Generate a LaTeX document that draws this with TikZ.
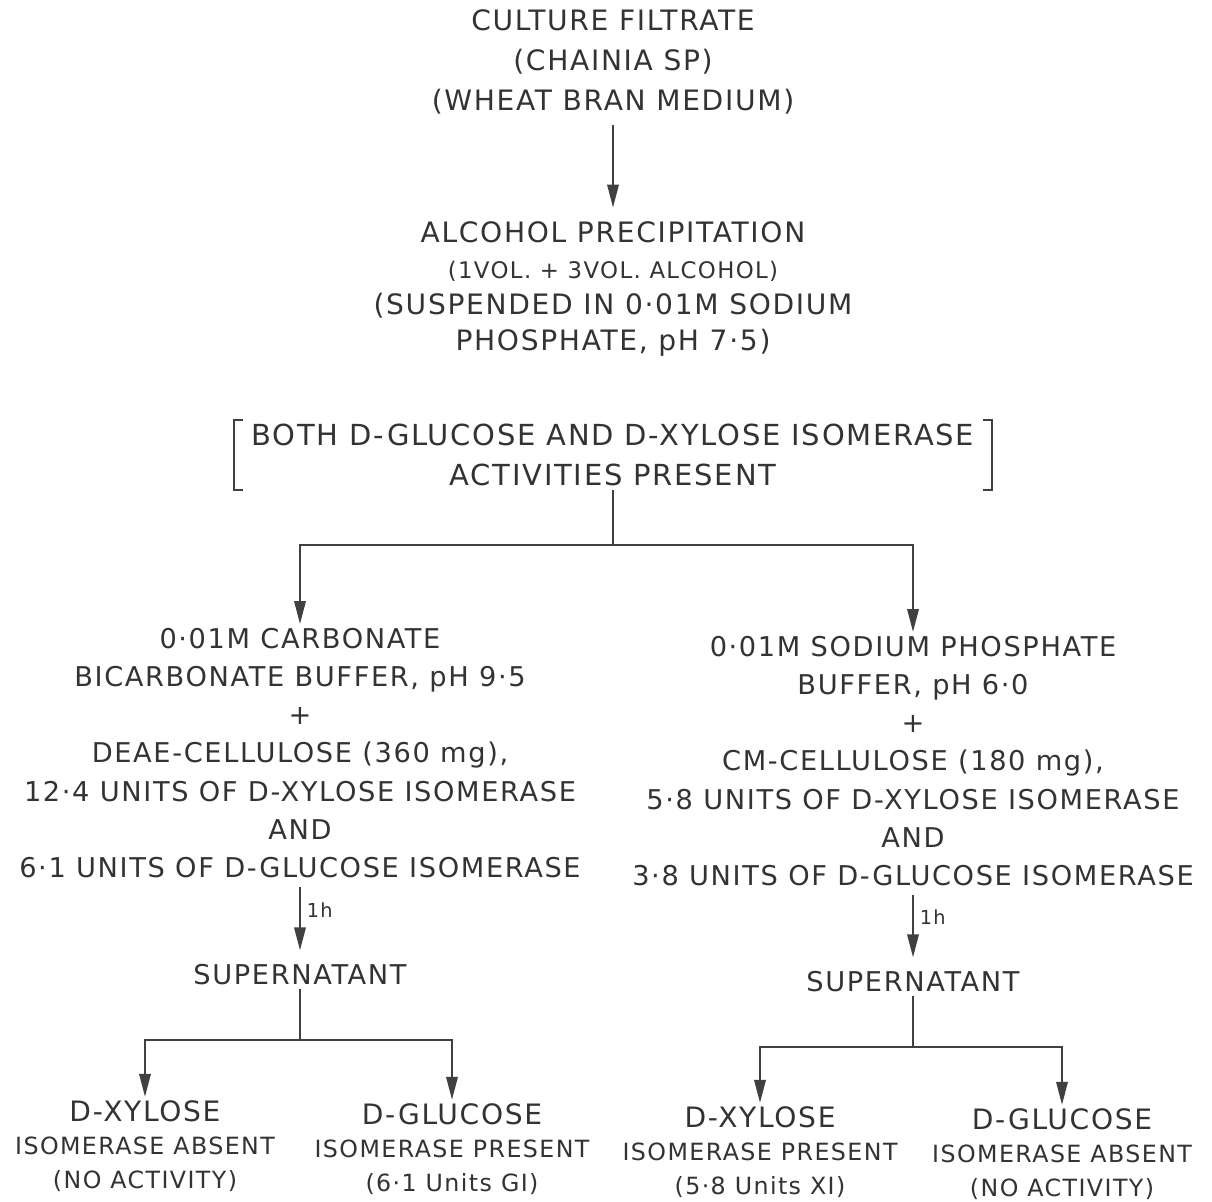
\documentclass[tikz,border=0pt]{standalone}
\usepackage{fontspec}
\setmainfont{DejaVu Sans}[LetterSpace=6]
\usetikzlibrary{arrows.meta}

\begin{document}
\begin{tikzpicture}[x=0.02cm,y=-0.02cm,
    txt/.style={align=center, inner sep=2pt, text=black!80, font=\fontsize{15.5}{21.8}\selectfont},
    lowtxt/.style={align=center, inner sep=2pt, text=black!80, font=\fontsize{13.5}{19}\selectfont},
    head/.style={font=\fontsize{16}{19}\selectfont},
    line/.style={draw=black!75, line width=1.1pt},
    arr/.style={line, -{Triangle[length=13pt,width=6.5pt]}}]
    \useasboundingbox (0,0) rectangle (1212,1201);

    % top of the scheme
    \node[txt, font=\fontsize{16}{22.7}\selectfont] (culture) at (613,62)
        {CULTURE FILTRATE\\(CHAINIA SP)\\(WHEAT BRAN MEDIUM)};
    \node[txt, font=\fontsize{16}{20.4}\selectfont] (alcohol) at (613,289)
        {ALCOHOL PRECIPITATION\\{\fontsize{13}{14}\selectfont (1VOL. + 3VOL. ALCOHOL)}\\(SUSPENDED IN 0·01M SODIUM\\PHOSPHATE, pH 7·5)};
    \node[txt, font=\fontsize{16.5}{22.7}\selectfont, inner xsep=10pt] (both) at (613,455)
        {BOTH D-GLUCOSE AND D-XYLOSE ISOMERASE\\ACTIVITIES PRESENT};
    \draw[line] ([shift={(9,0)}]both.north west) -- (both.north west) -- (both.south west) -- ++(9,0);
    \draw[line] ([shift={(-9,0)}]both.north east) -- (both.north east) -- (both.south east) -- ++(-9,0);

    \draw[arr, shorten <=4pt, shorten >=6pt] (culture) -- (alcohol);

    % two columns
    \node[txt] (bufL) at (300,753)
        {0·01M CARBONATE\\BICARBONATE BUFFER, pH 9·5\\+\\DEAE-CELLULOSE (360 mg),\\12·4 UNITS OF D-XYLOSE ISOMERASE\\AND\\6·1 UNITS OF D-GLUCOSE ISOMERASE};
    \node[txt] (bufR) at (913,761)
        {0·01M SODIUM PHOSPHATE\\BUFFER, pH 6·0\\+\\CM-CELLULOSE (180 mg),\\5·8 UNITS OF D-XYLOSE ISOMERASE\\AND\\3·8 UNITS OF D-GLUCOSE ISOMERASE};

    \coordinate (fork1) at (613,545);
    \draw[line] (both) -- (fork1);
    \draw[arr] (fork1) -| (bufL);
    \draw[arr] (fork1) -| (bufR);

    \node[txt] (supL) at (300,975) {SUPERNATANT};
    \node[txt] (supR) at (913,982) {SUPERNATANT};
    \draw[arr, shorten <=3pt, shorten >=6pt] (bufL) -- node[right, text=black!80, font=\fontsize{11}{13}\selectfont, pos=0.35] {1h} (supL);
    \draw[arr, shorten <=3pt, shorten >=6pt] (bufR) -- node[right, text=black!80, font=\fontsize{11}{13}\selectfont, pos=0.35] {1h} (supR);

    % results
    \node[lowtxt] (xylL) at (145,1146) {{\fontsize{16}{19}\selectfont D-XYLOSE}\\ISOMERASE ABSENT\\(NO ACTIVITY)};
    \node[lowtxt] (gluL) at (452,1149) {{\fontsize{16}{19}\selectfont D-GLUCOSE}\\ISOMERASE PRESENT\\(6·1 Units GI)};
    \node[lowtxt] (xylR) at (760,1152) {{\fontsize{16}{19}\selectfont D-XYLOSE}\\ISOMERASE PRESENT\\(5·8 Units XI)};
    \node[lowtxt] (gluR) at (1062,1154) {{\fontsize{16}{19}\selectfont D-GLUCOSE}\\ISOMERASE ABSENT\\(NO ACTIVITY)};

    \coordinate (fork2) at (300,1040);
    \coordinate (fork3) at (913,1047);
    \draw[line] (supL) -- (fork2);
    \draw[arr] (fork2) -| (xylL);
    \draw[arr] (fork2) -| (gluL);
    \draw[line] (supR) -- (fork3);
    \draw[arr] (fork3) -| (xylR);
    \draw[arr] (fork3) -| (gluR);
\end{tikzpicture}
\end{document}
